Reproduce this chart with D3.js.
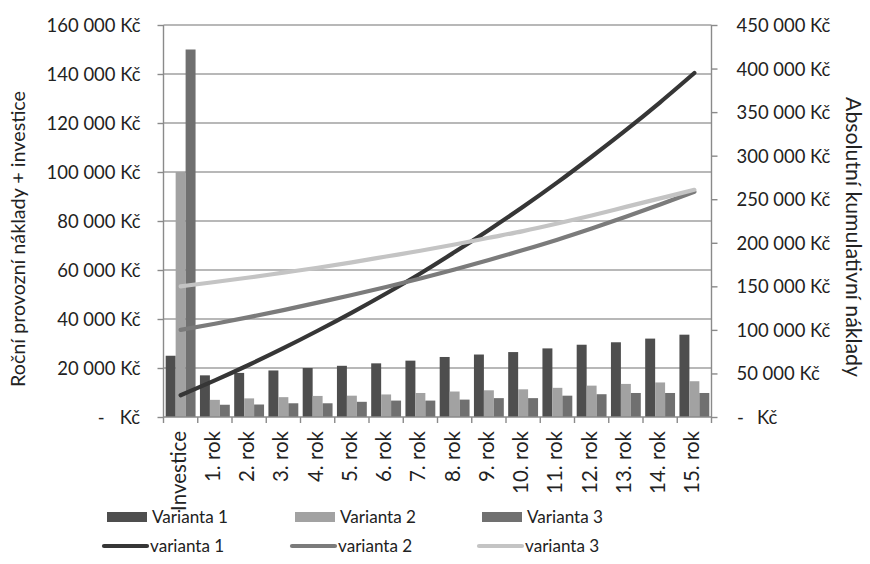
<!DOCTYPE html>
<html><head><meta charset="utf-8">
<script src="https://cdn.jsdelivr.net/npm/d3@7"></script>
<style>
html,body{margin:0;padding:0;background:#fff;}
svg{display:block;font-family:Lato, "Open Sans", sans-serif;}
</style></head>
<body>
<svg id="chart" width="870" height="564"></svg>
<script>
const categories = ["Investice","1. rok","2. rok","3. rok","4. rok","5. rok","6. rok","7. rok","8. rok","9. rok","10. rok","11. rok","12. rok","13. rok","14. rok","15. rok"];
const barVarianta1 = [25000,17000,18000,19000,20000,20900,21900,23000,24500,25500,26500,28000,29500,30500,32000,33600];
const barVarianta2 = [100000,7000,7600,8100,8600,8700,9200,9800,10400,10900,11300,11900,12800,13500,14100,14600];
const barVarianta3 = [150000,5000,5100,5600,5600,6200,6700,6700,7100,7700,7700,8700,9300,9800,9800,9800];
const lineVarianta1 = [25000,42000,60000,79000,99000,119900,141800,164800,189300,214800,241300,269300,298800,329300,361300,394900];
const lineVarianta2 = [100000,107000,114600,122700,131300,140000,149200,159000,169400,180300,191600,203500,216300,229800,243900,258500];
const lineVarianta3 = [150000,155000,160100,165700,171300,177500,184200,190900,198000,205700,213400,222100,231400,241200,251000,260800];
const leftTicks = [0,20000,40000,60000,80000,100000,120000,140000,160000];
const leftTickLabels = ["- Kč","20 000 Kč","40 000 Kč","60 000 Kč","80 000 Kč","100 000 Kč","120 000 Kč","140 000 Kč","160 000 Kč"];
const rightTicks = [0,50000,100000,150000,200000,250000,300000,350000,400000,450000];
const rightTickLabels = ["- Kč","50 000 Kč","100 000 Kč","150 000 Kč","200 000 Kč","250 000 Kč","300 000 Kč","350 000 Kč","400 000 Kč","450 000 Kč"];
const barSeriesNames = ["Varianta 1","Varianta 2","Varianta 3"];
const lineSeriesNames = ["varianta 1","varianta 2","varianta 3"];
const leftTitle = "Roční provozní náklady + investice";
const rightTitle = "Absolutní kumulativní náklady";

const barColors = ["#4e4e4e","#a2a2a2","#707070"];
const lineColors = ["#363636","#7b7b7b","#c4c4c4"];
const FONT = "Lato, 'Open Sans', sans-serif";

const svg = d3.select("#chart");
const L = 163.5, R = 711.5, T = 25, B = 417;

// fit font size to a target width
function fit(str, target){
  const t = svg.append("text").attr("font-family", FONT).attr("font-size", 100).text(str);
  const w = t.node().getComputedTextLength(); t.remove();
  return 100 * target / w;
}
const tickFS = fit("160 000 Kč", 94);
const catFS = fit("Investice", 80);
const legFS = fit("Varianta 1", 76);
const leftTitleFS = fit(leftTitle, 296);
const rightTitleFS = fit(rightTitle, 280);

const x0 = d3.scaleBand().domain(categories).range([L, R]).paddingInner(0).paddingOuter(0);
const x1 = d3.scaleBand().domain([0,1,2]).range([0, x0.bandwidth()]).paddingOuter(0.22).paddingInner(0);
const yL = d3.scaleLinear().domain([0,160000]).range([B, T]);
const yR = d3.scaleLinear().domain([0,450000]).range([B, T]);

// gridlines
svg.append("g").selectAll("line").data(leftTicks.slice(1)).join("line")
  .attr("x1", L).attr("x2", R).attr("y1", d => yL(d)).attr("y2", d => yL(d))
  .attr("stroke", "#a0a0a0").attr("stroke-width", 1.6);

// bars
const barData = [barVarianta1, barVarianta2, barVarianta3];
const gBars = svg.append("g");
barData.forEach((arr, si) => {
  gBars.selectAll(null).data(arr).join("rect")
    .attr("x", (d,i) => x0(categories[i]) + x1(si))
    .attr("width", x1.bandwidth())
    .attr("y", d => yL(d))
    .attr("height", d => B - yL(d))
    .attr("fill", barColors[si]);
});

// axes
const axisColor = "#8a8a8a";
const gL = svg.append("g").attr("transform", `translate(${L},0)`)
  .call(d3.axisLeft(yL).tickValues(leftTicks).tickSize(6).tickPadding(17).tickFormat((d,i) => leftTickLabels[i]));
const gR = svg.append("g").attr("transform", `translate(${R},0)`)
  .call(d3.axisRight(yR).tickValues(rightTicks).tickSize(6).tickPadding(19).tickFormat((d,i) => rightTickLabels[i]));
[gL, gR].forEach(g => {
  g.select(".domain").attr("stroke", axisColor).attr("stroke-width", 1.4).attr("d", `M0,${T}V${B}`);
  g.selectAll(".tick line").attr("stroke", axisColor).attr("stroke-width", 1.4);
  g.selectAll(".tick text").attr("font-family", FONT).attr("font-size", tickFS).attr("fill", "#222").attr("dy", "0.35em");
});
// zero labels like Excel accounting format
gL.selectAll(".tick").filter(d => d === 0).select("text").text(null)
  .call(t => { t.append("tspan").attr("x", -59).text("-"); t.append("tspan").attr("x", -23.5).text("Kč"); });
gR.selectAll(".tick").filter(d => d === 0).select("text").text(null)
  .call(t => { t.append("tspan").attr("x", 25.5).text("-"); t.append("tspan").attr("x", 45.5).text("Kč"); });

// bottom axis
const gB = svg.append("g");
gB.append("line").attr("x1", L).attr("x2", R).attr("y1", B).attr("y2", B).attr("stroke", axisColor).attr("stroke-width", 1.4);
gB.selectAll(".ct").data(categories.concat(["__end"])).join("line")
  .attr("x1", (d,i) => L + i * x0.step()).attr("x2", (d,i) => L + i * x0.step())
  .attr("y1", B).attr("y2", B + 6).attr("stroke", axisColor).attr("stroke-width", 1.4);
gB.selectAll("text").data(categories).join("text")
  .attr("transform", d => `translate(${x0(d) + x0.bandwidth()/2 + 5},${B + 14}) rotate(-90)`)
  .attr("text-anchor", "end")
  .attr("font-family", FONT).attr("font-size", catFS).attr("fill", "#222")
  .text(d => d);

// lines
const lineData = [lineVarianta1, lineVarianta2, lineVarianta3];
const lineGen = d3.line().x((d,i) => x0(categories[i]) + x0.bandwidth()/2).y(d => yR(d)).curve(d3.curveMonotoneX);
lineData.forEach((arr, si) => {
  svg.append("path").datum(arr).attr("d", lineGen)
    .attr("fill", "none").attr("stroke", lineColors[si]).attr("stroke-width", 4.2)
    .attr("stroke-linecap", "round").attr("stroke-linejoin", "round");
});

// titles
svg.append("text").attr("transform", `translate(25,239) rotate(-90)`)
  .attr("text-anchor", "middle").attr("font-family", FONT).attr("font-size", leftTitleFS).attr("fill", "#222").text(leftTitle);
svg.append("text").attr("transform", `translate(846,237) rotate(90)`)
  .attr("text-anchor", "middle").attr("font-family", FONT).attr("font-size", rightTitleFS).attr("fill", "#222").text(rightTitle);

// legend
const legX = [107, 295, 482];
const gLeg = svg.append("g");
barSeriesNames.forEach((n, i) => {
  gLeg.append("rect").attr("x", legX[i]).attr("y", 512).attr("width", 40).attr("height", 10).attr("fill", barColors[i]);
  gLeg.append("text").attr("x", legX[i] + 45).attr("y", 517).attr("dy", "0.35em")
    .attr("font-family", FONT).attr("font-size", legFS).attr("fill", "#222").text(n);
});
lineSeriesNames.forEach((n, i) => {
  gLeg.append("line").attr("x1", legX[i] - 3).attr("x2", legX[i] + 40).attr("y1", 546).attr("y2", 546)
    .attr("stroke", lineColors[i]).attr("stroke-width", 4.2).attr("stroke-linecap", "round");
  gLeg.append("text").attr("x", legX[i] + 43).attr("y", 546).attr("dy", "0.35em")
    .attr("font-family", FONT).attr("font-size", legFS).attr("fill", "#222").text(n);
});
</script>
</body></html>
